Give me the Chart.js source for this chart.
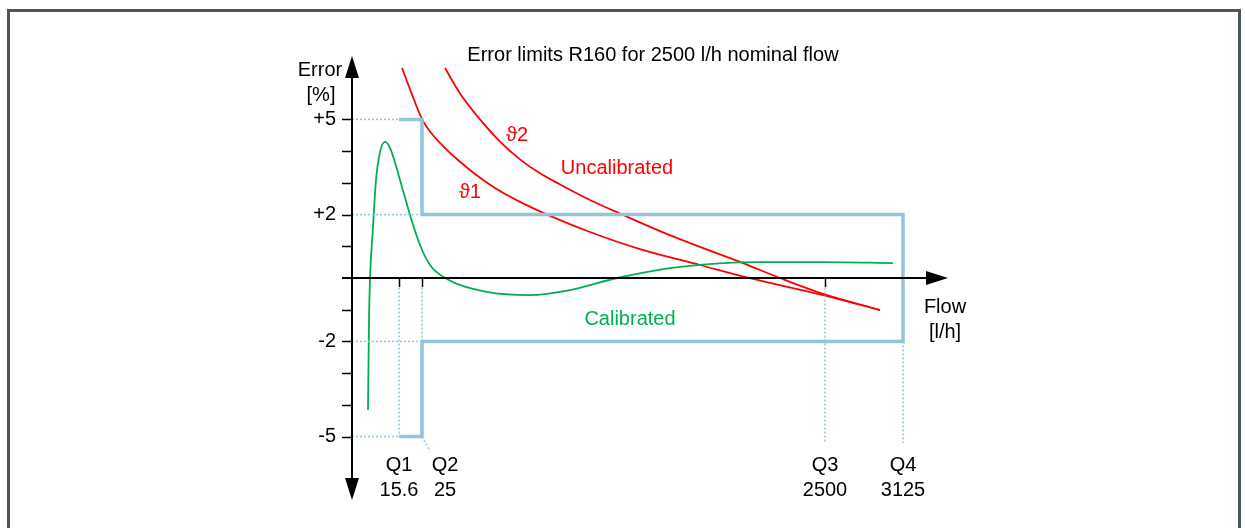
<!DOCTYPE html>
<html>
<head>
<meta charset="utf-8">
<script src="https://cdn.jsdelivr.net/npm/chart.js@4/dist/chart.umd.min.js"></script>
<style>
  html, body { margin: 0; padding: 0; background: #fff; overflow: hidden; }
  #wrap { position: relative; width: 1245px; height: 528px; }
  #frame { position: absolute; left: 7px; top: 9px; width: 1228px; height: 600px; border: 3px solid #4a5560; }
  canvas { position: absolute; left: 0; top: 0; }
</style>
</head>
<body>
<div id="wrap">
  <div id="frame"></div>
  <canvas id="errorChart" width="1245" height="528"></canvas>
</div>
<script>
// schematic flow axis: positions along the axis (not to scale)
var qNames = ['Q1', 'Q2', 'Q3', 'Q4'];
var qFlows = ['15.6', '25', '2500', '3125'];
var qPos = [4.7, 7.0, 47.3, 55.1];

// error limits [%]
var yTickValues = [5, 2, -2, -5];
var yTickLabels = ['+5', '+2', '-2', '-5'];

// calibrated meter error curve
var calX = [1.6, 1.7, 1.8, 2.1, 2.4, 2.8, 3.3, 3.8, 4.8, 5.8, 6.8, 7.8, 9.3, 13.5, 17.8, 21.8, 26.5, 32.8, 40.5, 47.1, 54.1];
var calY = [-4.16, -1.32, -0.03, 1.61, 3.09, 3.97, 4.29, 4.10, 3.09, 1.99, 1.04, 0.41, 0.0, -0.44, -0.54, -0.38, 0.0, 0.35, 0.50, 0.50, 0.47];

// uncalibrated, temperature 1
var unc1X = [5.0, 5.9, 7.0, 8.0, 9.2, 10.6, 12.3, 14.3, 16.8, 19.8, 23.8, 28.8, 34.8, 40.1, 47.1, 52.8];
var unc1Y = [6.62, 5.87, 5.01, 4.54, 4.13, 3.72, 3.28, 2.84, 2.40, 1.96, 1.45, 0.91, 0.41, -0.03, -0.54, -1.01];

// uncalibrated, temperature 2
var unc2X = [9.3, 10.8, 12.8, 14.8, 16.8, 18.8, 20.8, 23.8, 27.1, 30.8, 34.8, 39.1, 42.8, 47.1, 52.8];
var unc2Y = [6.62, 5.82, 5.00, 4.30, 3.74, 3.30, 2.95, 2.46, 1.99, 1.48, 0.98, 0.47, 0.0, -0.50, -1.01];

var limitBlue = '#92c4de';
var red = '#ff0000';
var green = '#00b050';

function pts(xs, ys) {
    return xs.map(function (x, i) { return { x: x, y: ys[i] }; });
}

// limit envelope: +5 between Q1 and Q2, +2/-2 between Q2 and Q4, -5 between Q1 and Q2
var envelope = [
    { x: qPos[0], y: 5 }, { x: qPos[1], y: 5 }, { x: qPos[1], y: 2 }, { x: qPos[3], y: 2 },
    { x: qPos[3], y: -2 }, { x: qPos[1], y: -2 }, { x: qPos[1], y: -5 }, { x: qPos[0], y: -5 }
];

// dotted guide segments, built from the limit values and the Q positions
var guides = [
    [{ x: 0, y: 5 }, { x: qPos[0], y: 5 }],
    [{ x: 0, y: 2 }, { x: qPos[1], y: 2 }],
    [{ x: 0, y: -2 }, { x: qPos[1], y: -2 }],
    [{ x: 0, y: -5 }, { x: qPos[0], y: -5 }],
    [{ x: qPos[0], y: -0.3 }, { x: qPos[0], y: -5 }],
    [{ x: qPos[1], y: -0.3 }, { x: qPos[1], y: -2 }],
    [{ x: qPos[1], y: -5 }, { x: qPos[1] + 0.8, y: -5.45 }],
    [{ x: qPos[2], y: -0.3 }, { x: qPos[2], y: -5.2 }],
    [{ x: qPos[3], y: -2 }, { x: qPos[3], y: -5.2 }]
];

// text labels placed in data units
var notes = [
    { text: '\u03d12', x: 16.5, y: 4.48, color: red },
    { text: 'Uncalibrated', x: 26.5, y: 3.45, color: red },
    { text: '\u03d11', x: 11.8, y: 2.71, color: red },
    { text: 'Calibrated', x: 27.8, y: -1.3, color: green }
];

var axesPlugin = {
    id: 'axesPlugin',
    afterDraw: function (chart) {
        var ctx = chart.ctx;
        var xs = chart.scales.x, ys = chart.scales.y;
        var x0 = xs.getPixelForValue(0), y0 = ys.getPixelForValue(0);
        var top = ys.getPixelForValue(7), bottom = ys.getPixelForValue(-7);
        var left = xs.getPixelForValue(-1), right = xs.getPixelForValue(59.6);
        ctx.save();
        ctx.strokeStyle = '#000';
        ctx.fillStyle = '#000';
        ctx.lineWidth = 2;
        ctx.beginPath();
        ctx.moveTo(x0, top + 18); ctx.lineTo(x0, bottom - 18);
        ctx.moveTo(left, y0); ctx.lineTo(right - 18, y0);
        ctx.stroke();
        // arrow heads
        ctx.beginPath();
        ctx.moveTo(x0, top); ctx.lineTo(x0 - 7, top + 22); ctx.lineTo(x0 + 7, top + 22); ctx.closePath();
        ctx.moveTo(x0, bottom); ctx.lineTo(x0 - 7, bottom - 22); ctx.lineTo(x0 + 7, bottom - 22); ctx.closePath();
        ctx.moveTo(right, y0); ctx.lineTo(right - 22, y0 - 7); ctx.lineTo(right - 22, y0 + 7); ctx.closePath();
        ctx.fill();
        // y ticks at every integer
        ctx.lineWidth = 1.5;
        ctx.beginPath();
        for (var v = -5; v <= 5; v++) {
            if (v === 0) continue;
            var py = Math.round(ys.getPixelForValue(v)) + 0.5;
            ctx.moveTo(x0 - 10, py); ctx.lineTo(x0, py);
        }
        // x ticks at Q1, Q2, Q3
        for (var i = 0; i < 3; i++) {
            var px = Math.round(xs.getPixelForValue(qPos[i])) + 0.5;
            ctx.moveTo(px, y0); ctx.lineTo(px, y0 + 9);
        }
        ctx.stroke();

        ctx.font = '20px "Liberation Sans", Arial, sans-serif';
        ctx.textBaseline = 'middle';
        ctx.textAlign = 'right';
        yTickValues.forEach(function (val, k) {
            ctx.fillText(yTickLabels[k], x0 - 16, ys.getPixelForValue(val));
        });
        ctx.textAlign = 'center';
        ctx.fillText('Error', x0 - 32, top + 14);
        ctx.fillText('[%]', x0 - 31, top + 39);
        ctx.fillText('Flow', right - 3, y0 + 29);
        ctx.fillText('[l/h]', right - 3, y0 + 54);
        qNames.forEach(function (name, k) {
            var px = xs.getPixelForValue(qPos[k]) + (k === 1 ? 23 : 0);
            ctx.fillText(name, px, 465);
            ctx.fillText(qFlows[k], px, 490);
        });
        ctx.fillText('Error limits R160 for 2500 l/h nominal flow', 653, 55);
        notes.forEach(function (n) {
            ctx.fillStyle = n.color;
            ctx.fillText(n.text, xs.getPixelForValue(n.x), ys.getPixelForValue(n.y));
        });
        ctx.restore();
    }
};

var datasets = guides.map(function (seg) {
    return {
        data: seg,
        borderColor: limitBlue,
        borderWidth: 1.5,
        borderDash: [2, 2],
        pointRadius: 0,
        tension: 0
    };
});
datasets.push({
    data: envelope,
    borderColor: limitBlue,
    borderWidth: 3.5,
    borderJoinStyle: 'miter',
    pointRadius: 0,
    tension: 0
});
datasets.push({
    data: pts(calX, calY),
    borderColor: green,
    borderWidth: 1.8,
    pointRadius: 0,
    cubicInterpolationMode: 'monotone'
});
datasets.push({
    data: pts(unc1X, unc1Y),
    borderColor: red,
    borderWidth: 1.8,
    pointRadius: 0,
    cubicInterpolationMode: 'monotone'
});
datasets.push({
    data: pts(unc2X, unc2Y),
    borderColor: red,
    borderWidth: 1.8,
    pointRadius: 0,
    cubicInterpolationMode: 'monotone'
});

var ctx = document.getElementById('errorChart').getContext('2d');
var errorChart = new Chart(ctx, {
    type: 'line',
    data: { datasets: datasets },
    options: {
        responsive: false,
        animation: false,
        layout: {
            padding: { left: 342, right: 293, top: 56, bottom: 28 }
        },
        scales: {
            x: { type: 'linear', min: -1, max: 60, display: false },
            y: { type: 'linear', min: -7, max: 7, display: false }
        },
        plugins: {
            legend: { display: false },
            tooltip: { enabled: false }
        }
    },
    plugins: [axesPlugin]
});
</script>
</body>
</html>
